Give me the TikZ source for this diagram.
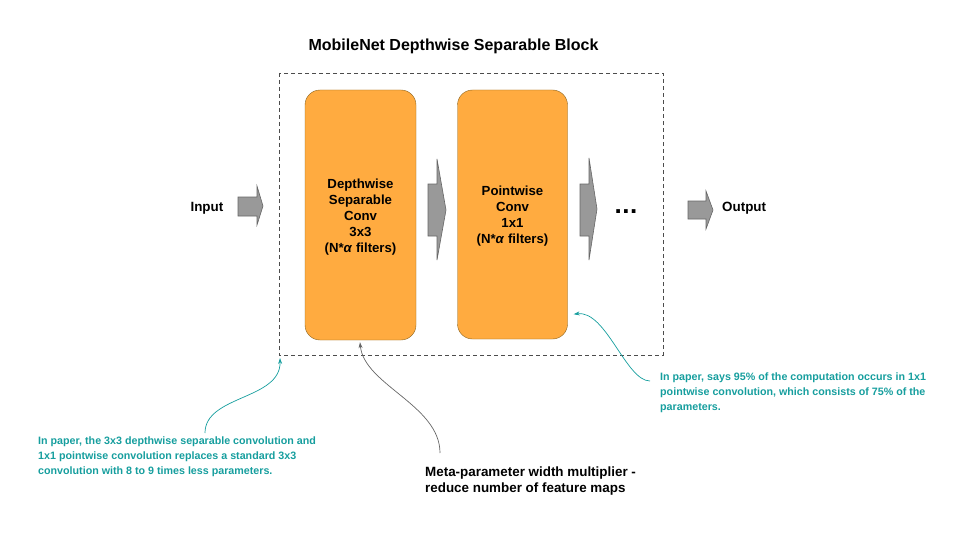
\documentclass[tikz,border=0pt]{standalone}
\usepackage{fontspec}
\setmainfont{Liberation Sans}
\usetikzlibrary{arrows.meta}

\definecolor{boxorange}{HTML}{FFAB40}
\definecolor{boxedge}{HTML}{8A6420}
\definecolor{arrowgray}{HTML}{999999}
\definecolor{notecyan}{HTML}{169E9E}

\tikzset{
  stage/.style={draw=boxedge, fill=boxorange, rounded corners=15pt, inner sep=0pt},
  stagetext/.style={align=center, font=\fontsize{13.2}{16}\selectfont\bfseries, inner sep=0pt, yshift=-2pt},
  blockarrow/.style={draw=black!60, fill=arrowgray, line width=0.6pt},
  label/.style={font=\fontsize{13.4}{16}\selectfont\bfseries, inner sep=0pt},
  note/.style={font=\fontsize{10.7}{14.6}\selectfont\bfseries, text=notecyan, align=left, inner sep=0pt},
}

\begin{document}
\begin{tikzpicture}[x=1pt, y=-1pt]
  \useasboundingbox (0,0) rectangle (960,540);

  % Title
  \node[font=\fontsize{16}{19}\selectfont\bfseries] (title) at (453.5,46) {MobileNet Depthwise Separable Block};

  % Block outline
  \draw[black!70, dash pattern=on 4pt off 3pt, line width=0.6pt] (279,73) rectangle (663,355);
  \coordinate (blockSW) at (279,355);

  % Stages
  \node[stage, minimum width=111pt, minimum height=250pt] (dw) at (360.5,215) {};
  \node[stagetext] (dwtext) at (dw.center) {Depthwise\\Separable\\Conv\\3x3\\(N*\textit{α} filters)};
  \node[stage, minimum width=110pt, minimum height=249pt] (pw) at (512.5,214.5) {};
  \node[stagetext] (pwtext) at (pw.center) {Pointwise\\Conv\\1x1\\(N*\textit{α} filters)};

  % Input / output
  \node[label, anchor=east] (in) at (223.5,208) {Input};
  \node[label, anchor=west] (out) at (722,208) {Output};
  \node[font=\fontsize{26}{26}\selectfont\bfseries, anchor=base] (dots) at (626,213) {.\kern0.5pt.\kern0.5pt.};

  % Block arrows
  \draw[blockarrow] (238,197) -- (257,197) -- (257,186) -- (263,206) -- (257,225) -- (257,216) -- (238,216) -- cycle;
  \draw[blockarrow] (428,184) -- (437,184) -- (437,159) -- (446,210) -- (437,260) -- (437,236) -- (428,236) -- cycle;
  \draw[blockarrow] (580,184) -- (589,184) -- (589,158) -- (597,209) -- (589,260) -- (589,236) -- (580,236) -- cycle;
  \draw[blockarrow] (688,201) -- (706,201) -- (706,191) -- (713,210) -- (706,229) -- (706,219) -- (688,219) -- cycle;

  % Notes
  \node[note, anchor=north west] (note1) at (38,437)
    {In paper, the 3x3 depthwise separable convolution and\\1x1 pointwise convolution replaces a standard 3x3\\convolution with 8 to 9 times less parameters.};
  \node[label, align=left, anchor=north west] (meta) at (425,467)
    {Meta-parameter width multiplier -\\reduce number of feature maps};
  \node[note, anchor=north west] (note2) at (660,373)
    {In paper, says 95\% of the computation occurs in 1x1\\pointwise convolution, which consists of 75\% of the\\parameters.};

  % Pointers
  \draw[notecyan, line width=0.7pt, -{Stealth[length=6pt, width=4pt]}]
    ([xshift=167pt,yshift=4pt]note1.north west) .. controls (205,395) and (281,400) .. ([xshift=1pt,yshift=-3pt]blockSW);
  \draw[black!60, line width=0.7pt, -{Stealth[length=6pt, width=4pt]}]
    ([xshift=15pt,yshift=14pt]meta.north west) .. controls (440,405) and (364,385) .. ([xshift=-0.5pt,yshift=-2pt]dw.south);
  \draw[notecyan, line width=0.7pt, -{Stealth[length=6pt, width=4pt]}]
    ([xshift=-10pt,yshift=-8pt]note2.north west) .. controls (626,381) and (606,310) .. ([xshift=6pt,yshift=25pt]pw.south east);
\end{tikzpicture}
\end{document}
